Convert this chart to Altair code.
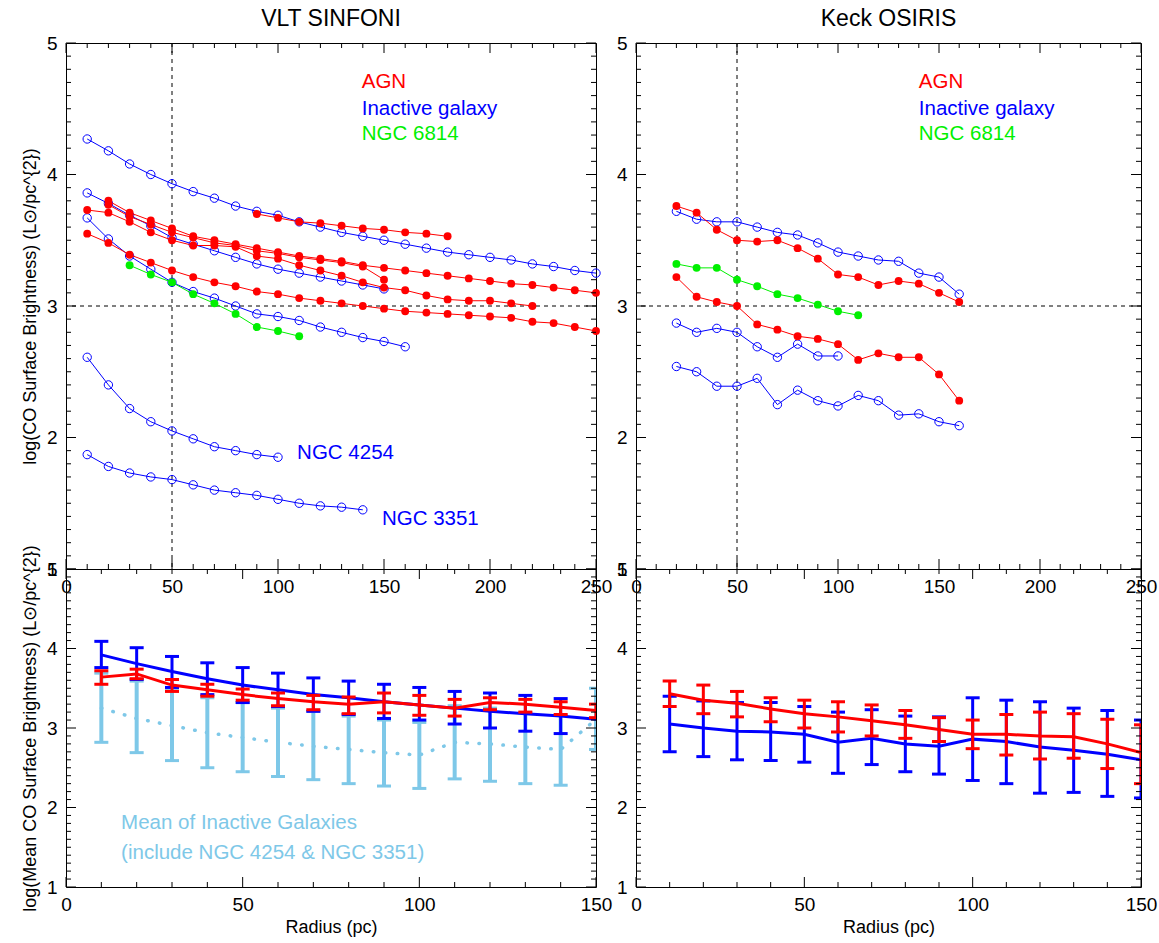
import altair as alt
import pandas as pd

FONT = "Liberation Sans"
RED = "#ff0000"
BLUE = "#0000ff"
GREEN = "#00f000"
LBLUE = "#7ec8e8"

# ---------------- VLT SINFONI profiles (radius step 10 pc) ----------------
SIN_AGN1_START = 90
SIN_AGN1 = [3.70, 3.67, 3.64, 3.63, 3.61, 3.59, 3.58, 3.56, 3.55, 3.53]
SIN_AGN2_START = 20
SIN_AGN2 = [3.80, 3.71, 3.65, 3.59, 3.53, 3.50, 3.47, 3.44, 3.41, 3.38, 3.36, 3.34,
            3.31, 3.29, 3.27, 3.25, 3.23, 3.21, 3.19, 3.17, 3.16, 3.14, 3.12, 3.10]
SIN_AGN3_START = 20
SIN_AGN3 = [3.77, 3.68, 3.62, 3.56, 3.52, 3.48, 3.46, 3.42, 3.40, 3.37, 3.35, 3.33, 3.30, 3.20]
SIN_AGN4_START = 10
SIN_AGN4 = [3.73, 3.71, 3.64, 3.56, 3.50, 3.46, 3.46, 3.45, 3.38, 3.36, 3.31, 3.27,
            3.23, 3.18, 3.14, 3.12, 3.08, 3.05, 3.04, 3.04, 3.02, 3.00]
SIN_AGN5_START = 10
SIN_AGN5 = [3.55, 3.48, 3.39, 3.33, 3.27, 3.22, 3.18, 3.15, 3.11, 3.09, 3.06, 3.04, 3.02,
            3.00, 2.98, 2.96, 2.95, 2.94, 2.93, 2.92, 2.91, 2.88, 2.87, 2.84, 2.81]

SIN_INA1_START = 10
SIN_INA1 = [4.27, 4.18, 4.08, 4.00, 3.93, 3.87, 3.82, 3.76, 3.72, 3.69, 3.64, 3.60, 3.56,
            3.53, 3.50, 3.47, 3.44, 3.41, 3.39, 3.37, 3.35, 3.32, 3.30, 3.27, 3.25]
SIN_INA2_START = 10
SIN_INA2 = [3.86, 3.78, 3.69, 3.61, 3.52, 3.47, 3.42, 3.37, 3.32, 3.28, 3.25, 3.22, 3.19, 3.16, 3.13]
SIN_INA3_START = 10
SIN_INA3 = [3.67, 3.51, 3.38, 3.28, 3.18, 3.11, 3.06, 3.00, 2.94, 2.92, 2.89, 2.84, 2.80,
            2.76, 2.73, 2.69]
NGC4254_START = 10
NGC4254 = [2.61, 2.40, 2.22, 2.12, 2.05, 1.99, 1.93, 1.90, 1.87, 1.85]
NGC3351_START = 10
NGC3351 = [1.87, 1.78, 1.73, 1.70, 1.68, 1.64, 1.60, 1.58, 1.56, 1.53, 1.50, 1.48, 1.47, 1.45]
SIN_N6814_START = 30
SIN_N6814 = [3.31, 3.24, 3.18, 3.09, 3.02, 2.94, 2.84, 2.81, 2.77]

# ---------------- Keck OSIRIS profiles ----------------
OSI_START = 20
OSI_AGN1 = [3.76, 3.71, 3.58, 3.50, 3.49, 3.50, 3.44, 3.36, 3.24, 3.22, 3.16, 3.19, 3.17, 3.10, 3.03]
OSI_AGN2 = [3.22, 3.07, 3.03, 3.00, 2.86, 2.82, 2.77, 2.75, 2.71, 2.59, 2.64, 2.61, 2.61, 2.48, 2.28]
OSI_INA1 = [3.72, 3.66, 3.64, 3.64, 3.60, 3.56, 3.54, 3.48, 3.41, 3.38, 3.35, 3.34, 3.25, 3.22, 3.09]
OSI_INA2 = [2.87, 2.80, 2.83, 2.80, 2.69, 2.61, 2.71, 2.62, 2.62]
OSI_INA3 = [2.54, 2.50, 2.39, 2.39, 2.45, 2.25, 2.36, 2.28, 2.24, 2.32, 2.28, 2.17, 2.18, 2.12, 2.09]
OSI_N6814 = [3.32, 3.29, 3.29, 3.20, 3.15, 3.09, 3.06, 3.01, 2.96, 2.93]

# ---------------- Mean profiles (radius 10..150 pc) ----------------
MEAN_RADIUS = [10, 20, 30, 40, 50, 60, 70, 80, 90, 100, 110, 120, 130, 140, 150]

SIN_MEAN_AGN = [3.64, 3.68, 3.54, 3.48, 3.42, 3.37, 3.33, 3.30, 3.33, 3.29, 3.25, 3.32, 3.30, 3.26, 3.22]
SIN_MEAN_AGN_HI = [3.72, 3.74, 3.61, 3.55, 3.49, 3.44, 3.41, 3.39, 3.44, 3.41, 3.36, 3.38, 3.36, 3.33, 3.30]
SIN_MEAN_AGN_LO = [3.55, 3.62, 3.46, 3.40, 3.35, 3.28, 3.23, 3.18, 3.19, 3.16, 3.15, 3.23, 3.20, 3.17, 3.13]

SIN_MEAN_INA = [3.92, 3.81, 3.71, 3.62, 3.54, 3.48, 3.42, 3.38, 3.33, 3.29, 3.25, 3.21, 3.18, 3.15, 3.11]
SIN_MEAN_INA_HI = [4.09, 4.01, 3.90, 3.82, 3.76, 3.69, 3.63, 3.59, 3.55, 3.51, 3.46, 3.44, 3.41, 3.37]
SIN_MEAN_INA_LO = [3.76, 3.61, 3.51, 3.42, 3.32, 3.27, 3.21, 3.17, 3.12, 3.10, 3.05, 3.00, 2.96, 2.93]

SIN_MEAN_ALL = [3.25, 3.12, 3.03, 2.94, 2.88, 2.82, 2.77, 2.73, 2.69, 2.66, 2.82, 2.80, 2.76, 2.73, 3.11]
SIN_MEAN_ALL_HI = [3.69, 3.59, 3.47, 3.38, 3.32, 3.25, 3.21, 3.15, 3.10, 3.07, 3.28, 3.25, 3.19, 3.16, 3.50]
SIN_MEAN_ALL_LO = [2.82, 2.69, 2.59, 2.50, 2.45, 2.39, 2.35, 2.30, 2.27, 2.24, 2.36, 2.33, 2.30, 2.28, 2.73]

OSI_MEAN_AGN = [3.43, 3.35, 3.31, 3.24, 3.18, 3.14, 3.09, 3.04, 2.98, 2.92, 2.92, 2.90, 2.89, 2.80, 2.69]
OSI_MEAN_AGN_HI = [3.59, 3.54, 3.46, 3.38, 3.35, 3.33, 3.29, 3.22, 3.13, 3.10, 3.17, 3.20, 3.18, 3.11, 3.04]
OSI_MEAN_AGN_LO = [3.27, 3.18, 3.14, 3.08, 3.00, 2.95, 2.90, 2.87, 2.83, 2.74, 2.66, 2.61, 2.62, 2.49, 2.30]

OSI_MEAN_INA = [3.05, 3.00, 2.96, 2.95, 2.92, 2.82, 2.87, 2.80, 2.77, 2.86, 2.83, 2.76, 2.72, 2.67, 2.60]
OSI_MEAN_INA_HI = [3.40, 3.34, 3.32, 3.32, 3.27, 3.20, 3.23, 3.15, 3.14, 3.38, 3.35, 3.33, 3.25, 3.22, 3.10]
OSI_MEAN_INA_LO = [2.70, 2.64, 2.60, 2.59, 2.57, 2.43, 2.54, 2.45, 2.42, 2.34, 2.30, 2.18, 2.19, 2.14, 2.12]

# ---------------- ticks / labels ----------------
TOP_X_MAJOR = [0, 50, 100, 150, 200, 250]
TOP_X_MINOR = [v for v in range(0, 251, 10) if v % 50 != 0]
BOT_X_MAJOR = [0, 50, 100, 150]
BOT_X_MINOR = [v for v in range(0, 151, 10) if v % 50 != 0]
Y_MAJOR = [1, 2, 3, 4, 5]
Y_MINOR = [round(1 + 0.1 * i, 1) for i in range(41) if i % 10 != 0]

TOP_YTITLE = "log(CO Surface Brightness) (L\u2299/pc^{2})"
BOT_YTITLE = "log(Mean CO Surface Brightness) (L\u2299/pc^{2})"

W_L, W_R, H_T, H_B = 530, 505, 526, 318
TXT = 20.5


def prof(start, vals, name, color):
    return pd.DataFrame({"r": [start + 10 * i for i in range(len(vals))],
                         "v": vals, "s": name, "c": color})


def scales(xmax):
    return (alt.Scale(domain=[0, xmax], nice=False, zero=False),
            alt.Scale(domain=[1, 5], nice=False, zero=False))


def axes(xvals, ytitle, xtitle):
    xa = alt.Axis(values=xvals, labelFlush=False, format="d", title=xtitle,
                  titlePadding=4, labelPadding=8)
    ya = alt.Axis(values=Y_MAJOR, format="d", title=ytitle,
                  labelPadding=9, titlePadding=7)
    return xa, ya


def frame(xs, ys, xa, ya, W, H, xmaj, xmin):
    layers = []
    for vals, L in [(xmaj, 10), (xmin, 5)]:
        base = alt.Chart(pd.DataFrame({"r": vals})).mark_rule(color="black", strokeWidth=1)
        X = alt.X("r:Q", scale=xs, axis=xa)
        layers.append(base.encode(x=X, y=alt.value(H), y2=alt.value(H - L)))
        layers.append(base.encode(x=X, y=alt.value(0), y2=alt.value(L)))
    for vals, L in [(Y_MAJOR, 10), (Y_MINOR, 5)]:
        base = alt.Chart(pd.DataFrame({"v": vals})).mark_rule(color="black", strokeWidth=1)
        Y = alt.Y("v:Q", scale=ys, axis=ya)
        layers.append(base.encode(y=Y, x=alt.value(0), x2=alt.value(L)))
        layers.append(base.encode(y=Y, x=alt.value(W), x2=alt.value(W - L)))
    return layers


def top_panel(title, W, inactive, agn, green, texts, ytitle):
    xs, ys = scales(250)
    xa, ya = axes(TOP_X_MAJOR, ytitle, "")
    X = alt.X("r:Q", scale=xs, axis=xa)
    Y = alt.Y("v:Q", scale=ys, axis=ya)
    layers = []
    layers.append(alt.Chart(pd.DataFrame({"r": [50]})).mark_rule(
        color="black", strokeWidth=1, strokeDash=[4, 4]).encode(x=X))
    layers.append(alt.Chart(pd.DataFrame({"v": [3]})).mark_rule(
        color="black", strokeWidth=1, strokeDash=[4, 4]).encode(y=Y))
    for df, filled in [(inactive, False), (agn, True), (green, True)]:
        layers.append(alt.Chart(df).mark_line(strokeWidth=1).encode(
            x=X, y=Y, detail="s:N", color=alt.Color("c:N", scale=None)))
        if filled:
            layers.append(alt.Chart(df).mark_circle(size=62, opacity=1).encode(
                x=X, y=Y, color=alt.Color("c:N", scale=None)))
        else:
            layers.append(alt.Chart(df).mark_point(size=70, filled=False, strokeWidth=1,
                                                   opacity=1).encode(
                x=X, y=Y, color=alt.Color("c:N", scale=None)))
    layers.append(alt.Chart(texts).mark_text(align="left", baseline="middle", fontSize=TXT,
                                             font=FONT).encode(
        x=X, y=Y, text="t:N", color=alt.Color("c:N", scale=None)))
    layers += frame(xs, ys, xa, ya, W, H_T, TOP_X_MAJOR, TOP_X_MINOR)
    return alt.layer(*layers).properties(
        width=W, height=H_T,
        title=alt.TitleParams(title, fontSize=23, font=FONT, fontWeight="normal", offset=3))


def err_layers(X, ys, ya, r, mid, hi, lo, color, barw, dotted=False):
    n = len(hi)
    bars = pd.DataFrame({"r": r[:n], "hi": hi, "lo": lo})
    line = pd.DataFrame({"r": r, "v": mid})
    out = []
    out.append(alt.Chart(bars).mark_rule(color=color, strokeWidth=barw, clip=True).encode(
        x=X, y=alt.Y("hi:Q", scale=ys, axis=ya), y2="lo:Q"))
    for f in ["hi", "lo"]:
        out.append(alt.Chart(bars).mark_tick(color=color, orient="horizontal", size=14,
                                             thickness=3, clip=True, opacity=1).encode(
            x=X, y=alt.Y(f"{f}:Q", scale=ys, axis=ya)))
    Y = alt.Y("v:Q", scale=ys, axis=ya)
    if dotted:
        out.append(alt.Chart(line).mark_line(color=color, strokeWidth=3.5, strokeDash=[0.5, 11.5],
                                             strokeCap="round", clip=True).encode(x=X, y=Y))
    else:
        out.append(alt.Chart(line).mark_line(color=color, strokeWidth=3, clip=True).encode(
            x=X, y=Y))
    return out


def bottom_panel(W, groups, texts, ytitle):
    xs, ys = scales(150)
    xa, ya = axes(BOT_X_MAJOR, ytitle, "Radius (pc)")
    X = alt.X("r:Q", scale=xs, axis=xa)
    Y = alt.Y("v:Q", scale=ys, axis=ya)
    layers = []
    for g in groups:
        layers += err_layers(X, ys, ya, *g)
    if texts is not None:
        layers.append(alt.Chart(texts).mark_text(align="left", baseline="middle", fontSize=TXT,
                                                 font=FONT).encode(
            x=X, y=Y, text="t:N", color=alt.Color("c:N", scale=None)))
    layers += frame(xs, ys, xa, ya, W, H_B, BOT_X_MAJOR, BOT_X_MINOR)
    return alt.layer(*layers).properties(width=W, height=H_B)


# ---------------- build panels ----------------
sin_ina = pd.concat([prof(SIN_INA1_START, SIN_INA1, "i1", BLUE),
                     prof(SIN_INA2_START, SIN_INA2, "i2", BLUE),
                     prof(SIN_INA3_START, SIN_INA3, "i3", BLUE),
                     prof(NGC4254_START, NGC4254, "n4254", BLUE),
                     prof(NGC3351_START, NGC3351, "n3351", BLUE)])
sin_agn = pd.concat([prof(SIN_AGN1_START, SIN_AGN1, "a1", RED),
                     prof(SIN_AGN2_START, SIN_AGN2, "a2", RED),
                     prof(SIN_AGN3_START, SIN_AGN3, "a3", RED),
                     prof(SIN_AGN4_START, SIN_AGN4, "a4", RED),
                     prof(SIN_AGN5_START, SIN_AGN5, "a5", RED)])
sin_grn = prof(SIN_N6814_START, SIN_N6814, "g", GREEN)
sin_txt = pd.DataFrame({
    "r": [139.5, 139.5, 139.5, 109, 149],
    "v": [4.70, 4.50, 4.31, 1.88, 1.38],
    "t": ["AGN", "Inactive galaxy", "NGC 6814", "NGC 4254", "NGC 3351"],
    "c": [RED, BLUE, GREEN, BLUE, BLUE]})

osi_ina = pd.concat([prof(OSI_START, OSI_INA1, "i1", BLUE),
                     prof(OSI_START, OSI_INA2, "i2", BLUE),
                     prof(OSI_START, OSI_INA3, "i3", BLUE)])
osi_agn = pd.concat([prof(OSI_START, OSI_AGN1, "a1", RED),
                     prof(OSI_START, OSI_AGN2, "a2", RED)])
osi_grn = prof(OSI_START, OSI_N6814, "g", GREEN)
osi_txt = pd.DataFrame({
    "r": [140, 140, 140], "v": [4.70, 4.50, 4.31],
    "t": ["AGN", "Inactive galaxy", "NGC 6814"], "c": [RED, BLUE, GREEN]})

bl_txt = pd.DataFrame({"r": [15.6, 15.6], "v": [1.81, 1.43],
                       "t": ["Mean of Inactive Galaxies", "(include NGC 4254 & NGC 3351)"],
                       "c": [LBLUE, LBLUE]})

tl = top_panel("VLT SINFONI", W_L, sin_ina, sin_agn, sin_grn, sin_txt, TOP_YTITLE)
tr = top_panel("Keck OSIRIS", W_R, osi_ina, osi_agn, osi_grn, osi_txt, "")
bl = bottom_panel(W_L, [
    (MEAN_RADIUS, SIN_MEAN_ALL, SIN_MEAN_ALL_HI, SIN_MEAN_ALL_LO, LBLUE, 4, True),
    (MEAN_RADIUS, SIN_MEAN_INA, SIN_MEAN_INA_HI, SIN_MEAN_INA_LO, BLUE, 3),
    (MEAN_RADIUS, SIN_MEAN_AGN, SIN_MEAN_AGN_HI, SIN_MEAN_AGN_LO, RED, 3),
], bl_txt, BOT_YTITLE)
br = bottom_panel(W_R, [
    (MEAN_RADIUS, OSI_MEAN_INA, OSI_MEAN_INA_HI, OSI_MEAN_INA_LO, BLUE, 3),
    (MEAN_RADIUS, OSI_MEAN_AGN, OSI_MEAN_AGN_HI, OSI_MEAN_AGN_LO, RED, 3),
], None, "")

chart = alt.concat(tl, tr, bl, br, columns=2, spacing={"row": 0, "column": 40},
                   bounds="flush").properties(
    padding={"left": 20, "top": 7, "right": 0, "bottom": 0}
).configure(font=FONT).configure_view(stroke="black", strokeWidth=1).configure_axis(
    labelFontSize=19, titleFontSize=18, labelFont=FONT, titleFont=FONT,
    labelColor="black", titleColor="black", titleFontWeight="normal",
    ticks=False, domain=False, grid=False)

chart.save("out.html", embed_options={"renderer": "svg", "actions": False})
